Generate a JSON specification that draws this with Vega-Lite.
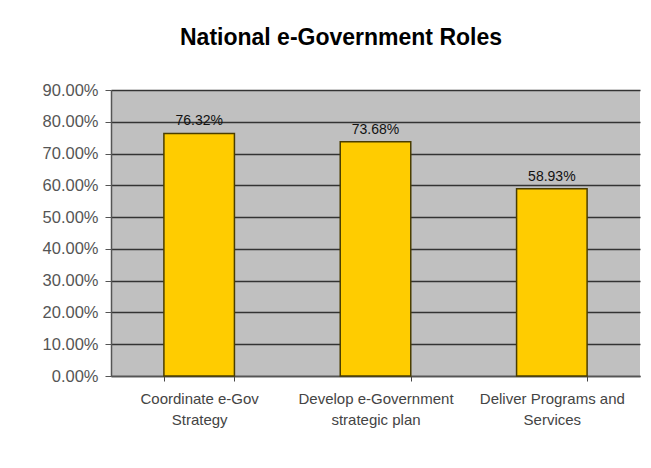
{
  "$schema": "https://vega.github.io/schema/vega-lite/v6.json",
  "width": 529,
  "height": 286,
  "autosize": {"type": "none"},
  "padding": {"left": 111, "top": 90, "right": 11, "bottom": 92},
  "background": "white",
  "title": {
    "text": "National e-Government Roles",
    "font": "Liberation Sans",
    "fontSize": 23,
    "fontWeight": "bold",
    "color": "#000000",
    "anchor": "middle",
    "frame": "bounds",
    "baseline": "alphabetic",
    "offset": 14
  },
  "data": {
    "values": [
      {"role": "Coordinate e-Gov|Strategy", "share": 0.7632},
      {"role": "Develop e-Government|strategic plan", "share": 0.7368},
      {"role": "Deliver Programs and|Services", "share": 0.5893}
    ]
  },
  "encoding": {
    "x": {
      "field": "role",
      "type": "nominal",
      "sort": null,
      "scale": {"paddingInner": 0.6, "paddingOuter": 0.3},
      "axis": {
        "title": null,
        "labelAngle": 0,
        "labelExpr": "split(datum.label, '|')",
        "labelFont": "Liberation Sans",
        "labelFontSize": 15,
        "labelColor": "#444444",
        "labelLineHeight": 21,
        "labelPadding": 10,
        "labelBaseline": "top",
        "tickBand": "extent",
        "tickSize": 5,
        "tickColor": "#444444",
        "domainColor": "#555555",
        "domainWidth": 1.5,
        "grid": false
      }
    },
    "y": {
      "field": "share",
      "type": "quantitative",
      "scale": {"domain": [0, 0.9], "nice": false},
      "axis": {
        "title": null,
        "format": ".2%",
        "values": [0, 0.1, 0.2, 0.3, 0.4, 0.5, 0.6, 0.7, 0.8, 0.9],
        "labelFont": "Liberation Sans",
        "labelFontSize": 16.5,
        "labelColor": "#555555",
        "labelPadding": 7,
        "tickSize": 6,
        "tickColor": "#555555",
        "domainColor": "#555555",
        "domainWidth": 1.5,
        "grid": true,
        "gridColor": "#333333",
        "gridWidth": 1.5
      }
    }
  },
  "layer": [
    {
      "mark": {"type": "bar", "color": "#FFCC00", "stroke": "#4a3d00", "strokeWidth": 1.5}
    },
    {
      "mark": {"type": "text", "dy": -8, "baseline": "alphabetic", "font": "Liberation Sans", "fontSize": 14, "color": "#111111"},
      "encoding": {
        "text": {"field": "share", "type": "quantitative", "format": ".2%"}
      }
    }
  ],
  "config": {
    "view": {"fill": "#C0C0C0", "stroke": null}
  }
}
